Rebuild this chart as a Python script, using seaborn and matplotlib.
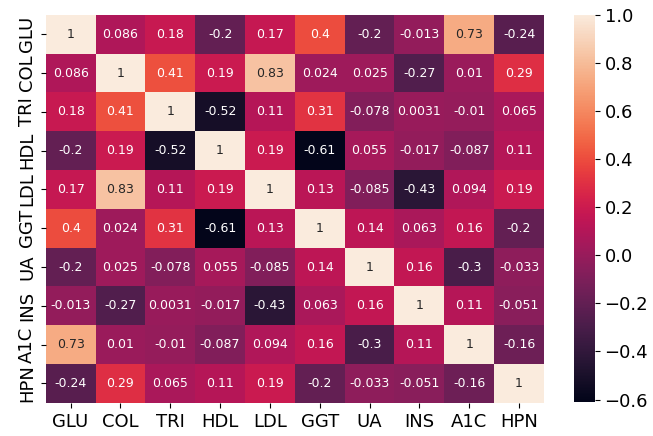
import numpy as np
import pandas as pd
import matplotlib
matplotlib.use("Agg")
import matplotlib.pyplot as plt
import seaborn as sns

# Variable names (row / column labels)
labels = ["GLU", "COL", "TRI", "HDL", "LDL", "GGT", "UA", "INS", "A1C", "HPN"]

# Correlation matrix rows
glu = [1, 0.086, 0.18, -0.2, 0.17, 0.4, -0.2, -0.013, 0.73, -0.24]
col = [0.086, 1, 0.41, 0.19, 0.83, 0.024, 0.025, -0.27, 0.01, 0.29]
tri = [0.18, 0.41, 1, -0.52, 0.11, 0.31, -0.078, 0.0031, -0.01, 0.065]
hdl = [-0.2, 0.19, -0.52, 1, 0.19, -0.61, 0.055, -0.017, -0.087, 0.11]
ldl = [0.17, 0.83, 0.11, 0.19, 1, 0.13, -0.085, -0.43, 0.094, 0.19]
ggt = [0.4, 0.024, 0.31, -0.61, 0.13, 1, 0.14, 0.063, 0.16, -0.2]
ua = [-0.2, 0.025, -0.078, 0.055, -0.085, 0.14, 1, 0.16, -0.3, -0.033]
ins = [-0.013, -0.27, 0.0031, -0.017, -0.43, 0.063, 0.16, 1, 0.11, -0.051]
a1c = [0.73, 0.01, -0.01, -0.087, 0.094, 0.16, -0.3, 0.11, 1, -0.16]
hpn = [-0.24, 0.29, 0.065, 0.11, 0.19, -0.2, -0.033, -0.051, -0.16, 1]

corr_df = pd.DataFrame([glu, col, tri, hdl, ldl, ggt, ua, ins, a1c, hpn],
                       index=labels, columns=labels)

fig = plt.figure(figsize=(6.53, 4.36), dpi=100)
ax = fig.add_axes([0.070, 0.076, 0.763, 0.890])
cax = fig.add_axes([0.879, 0.078, 0.032, 0.888])

sns.heatmap(corr_df, annot=True, ax=ax, cbar_ax=cax,
            annot_kws={"fontsize": 9})

ax.tick_params(axis="x", labelsize=13, rotation=0)
ax.tick_params(axis="y", labelsize=13, rotation=90)
for lbl in ax.get_yticklabels():
    lbl.set_va("center")
cax.tick_params(labelsize=13)

fig.savefig("out.png", dpi=100)
